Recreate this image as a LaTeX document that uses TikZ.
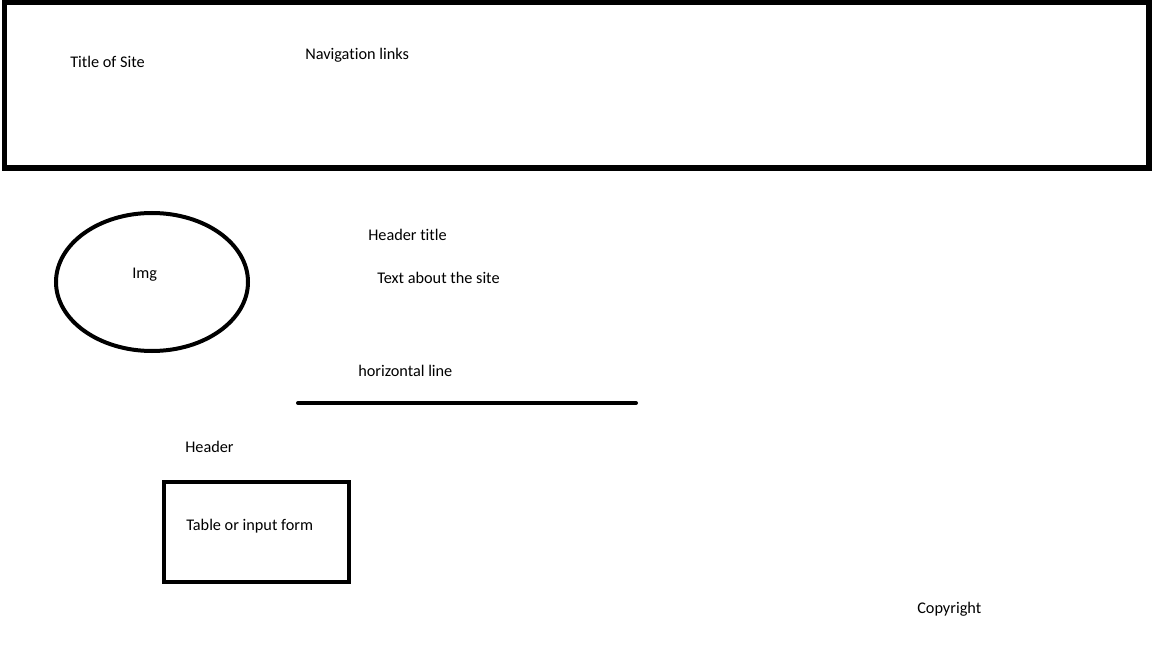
\documentclass[tikz,border=0pt]{standalone}
\usepackage{fontspec}
\setmainfont{Carlito}[Ligatures=NoCommon]
\usepackage{tikz}
\usetikzlibrary{calc}

\tikzset{
  lbl/.style={anchor=base west,inner sep=0pt,font=\fontsize{12.2pt}{14pt}\selectfont},
  thickbox/.style={line width=3.8pt},
  pen/.style={line width=3pt}
}

\begin{document}
\begin{tikzpicture}[x=0.75pt,y=-0.75pt]
\useasboundingbox (0,0) rectangle (1152,648);

% top bar
\draw [thickbox] (4.5,2.5) rectangle (1149,168);
\draw (70,68) node[lbl] (sitetitle) {Title of Site};
\draw (305,60) node[lbl] (navlinks) {Navigation links};

% image + intro
\draw [pen] (152,282) ellipse (96 and 69);
\draw (132,279) node[lbl] (img) {Img};
\draw (368,241) node[lbl] (headtitle) {Header title};
\draw (377,284) node[lbl] (abouttext) {Text about the site};

% rule
\draw (358,376) node[lbl] (hlinetext) {horizontal line};
\coordinate (hlineA) at (298,403);
\coordinate (hlineB) at (636,403);
\draw [pen,line cap=round] (hlineA) -- (hlineB);

% form
\draw (185,452) node[lbl] (header) {Header};
\draw [pen] (163.5,481.5) rectangle (348.5,581.5);
\draw (186,530) node[lbl] (form) {Table or input form};

\draw (917,613) node[lbl] (copyright) {Copyright};

\end{tikzpicture}
\end{document}
